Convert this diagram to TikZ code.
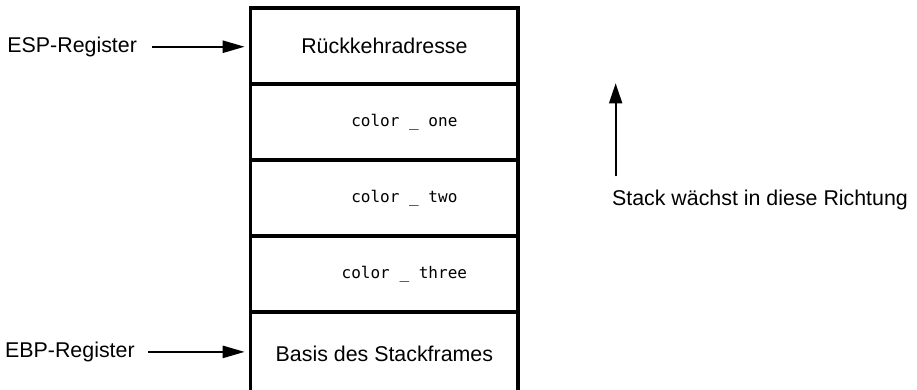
\documentclass[tikz,border=0pt]{standalone}
\usepackage{fontspec}
\setmainfont{Liberation Sans}
\setmonofont{DejaVu Sans Mono}
\usetikzlibrary{positioning, arrows.meta}

\newcommand{\slotname}[1]{\hspace*{1.05cm}{\ttfamily\fontsize{12}{14}\selectfont #1}}

\begin{document}
\begin{tikzpicture}[
		every cell/.style={rectangle, draw, line width=2.4pt, minimum width=7.03cm, minimum height=2cm, inner sep=0pt, font=\fontsize{16}{19}\selectfont},
		cell last/.style={minimum height=2.2cm},
		reg label/.style={anchor=east, inner sep=0pt, font=\fontsize{16}{19}\selectfont},
		pointer/.style={line width=1.6pt, -{Triangle[length=0.58cm, width=0.32cm]}},
		>=stealth
	]

	\useasboundingbox (0, 0) rectangle (24.13, 10.26);

	\foreach \l [count=\i] in {Rückkehradresse, \slotname{color \_ one}, \slotname{color \_ two}, \slotname{color \_ three}}
		\node [every cell/.try] (cell-\i) at (10.115, 11.05 - 2*\i) {\l};

	\node [every cell/.try, cell last/.try] (cell-5) at (10.115, 0.95) {Basis des Stackframes};

	\node [reg label] (esp) at (3.61, 9.03) {ESP-Register};
	\node [reg label] (ebp) at (3.55, 1.0) {EBP-Register};

	\draw [pointer, shorten <=0.39cm, shorten >=0.12cm] (esp.east) -- (esp.east -| cell-1.west);
	\draw [pointer, shorten <=0.34cm, shorten >=0.12cm] (ebp.east) -- (ebp.east -| cell-5.west);

	\node [anchor=west, inner sep=0pt, font=\fontsize{16}{19}\selectfont] (growth) at (16.1, 5.0) {Stack wächst in diese Richtung};
	\draw [line width=1.6pt, -{Triangle[length=0.53cm, width=0.34cm]}] (growth.north west) ++(0.1, 0.35) -- ++(0, 2.45);
\end{tikzpicture}
\end{document}
